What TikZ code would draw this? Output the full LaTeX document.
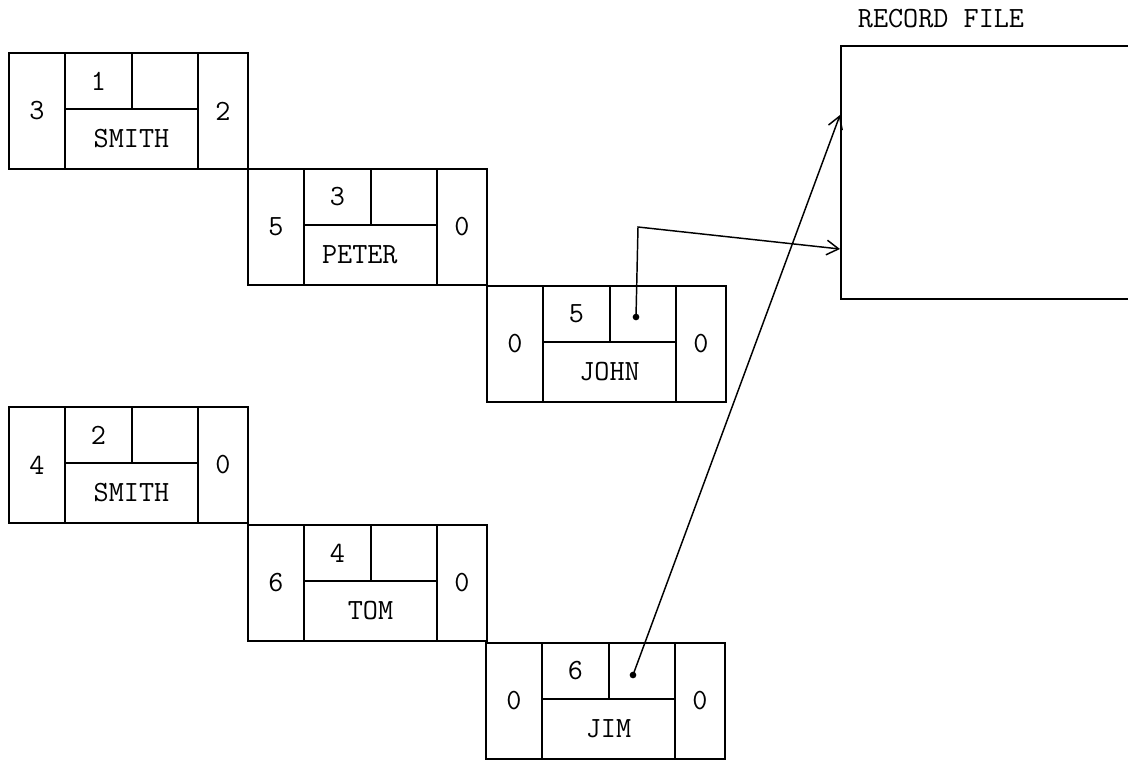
\documentclass[tikz,border=0pt]{standalone}
\usetikzlibrary{arrows.meta}
\tikzset{
  cell/.style={draw, line width=1.5pt, rectangle, inner sep=0pt, anchor=north west,
    font=\ttfamily\fontsize{22}{25}\selectfont},
  arr/.style={line width=1.1pt, -{Straight Barb[length=9pt,width=11pt,line width=1.1pt]}},
  ptrdot/.style={circle, fill, inner sep=0pt, minimum size=5pt},
}
\newcommand\myrec[7]{%
  \begin{scope}[shift={(#2,#3)}]
    \node[cell, minimum width=42pt, minimum height=87pt] (#1L) at (0,0) {#4};
    \node[cell, minimum width=50.25pt, minimum height=42pt] (#1N) at (56,0) {#5};
    \node[cell, minimum width=49.5pt, minimum height=42pt] (#1P) at (123,0) {};
    \node[cell, minimum width=99.75pt, minimum height=45pt] (#1B) at (56,56) {#6};
    \node[cell, minimum width=37.5pt, minimum height=87pt] (#1R) at (189,0) {#7};
  \end{scope}}
\begin{document}
\begin{tikzpicture}[x=0.75pt, y=-0.75pt]
  \useasboundingbox (0,0) rectangle (1128,760);
  \myrec{sa}{8}{52}{3}{1}{SMITH}{2}
  \myrec{pe}{247}{168}{5}{3}{PETER\hspace*{16pt}}{0}
  \myrec{jo}{486}{285}{0}{5}{JOHN}{0}
  \myrec{sb}{8}{406}{4}{2}{SMITH}{0}
  \myrec{to}{247}{524}{6}{4}{TOM}{0}
  \myrec{ji}{485}{642}{0}{6}{JIM}{0}
  % record file
  \node[draw, line width=1.5pt, inner sep=0pt, anchor=north west,
        minimum width=225pt, minimum height=189.75pt] (rf) at (840,45) {};
  \node[font=\ttfamily\fontsize{22}{25}\selectfont] (rftitle) at (941,19) {RECORD FILE};
  % pointers
  \node[ptrdot] (jodot) at (636,317) {};
  \node[ptrdot] (jidot) at (633,675) {};
  \coordinate (jobend) at (638,227);
  \coordinate (rfa) at (840,249);
  \coordinate (rfb) at (840,115);
  \draw[arr] (jodot.center) -- (jobend) -- (rfa);
  \draw[arr] (jidot.center) -- (rfb);
\end{tikzpicture}
\end{document}
